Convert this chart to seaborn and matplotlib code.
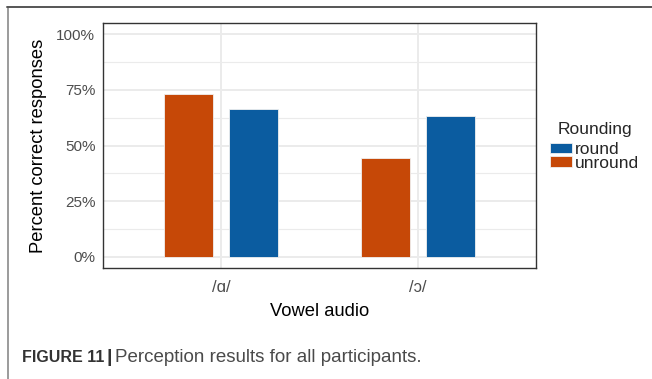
import matplotlib
matplotlib.use("Agg")
import matplotlib.pyplot as plt
import seaborn as sns
import pandas as pd
from matplotlib.patches import Patch
from matplotlib.lines import Line2D
from matplotlib.ticker import MultipleLocator, FuncFormatter

# values (percent correct)
vowels = ["/ɑ/", "/ɔ/"]
unround_pct = [73.2, 44.5]
round_pct = [66.5, 63.3]
y_ticks = [0, 25, 50, 75, 100]

colors = {"round": "#0B5CA0", "unround": "#C64807"}

df = pd.DataFrame({
    "Vowel audio": vowels * 2,
    "Rounding": ["unround"] * 2 + ["round"] * 2,
    "pct": unround_pct + round_pct,
})

sns.set_style("white")
plt.rcParams["font.family"] = ["Liberation Sans", "DejaVu Sans"]

fig = plt.figure(figsize=(6.52, 3.79), dpi=100)
ax = fig.add_axes([103 / 652, 1 - 268 / 379, 433 / 652, 245 / 379])

sns.barplot(ax=ax, data=df, x="Vowel audio", y="pct", hue="Rounding",
            hue_order=["unround", "round"], palette=colors, saturation=1,
            width=0.66, gap=0.24, edgecolor="#f0f0f0", linewidth=0.6,
            legend=False, zorder=3)

ax.set_xlim(-0.6, 1.6)
ax.set_ylim(-5, 105)
ax.set_yticks(y_ticks)
ax.yaxis.set_minor_locator(MultipleLocator(12.5))
ax.yaxis.set_major_formatter(FuncFormatter(lambda v, p: f"{int(v)}%"))

ax.grid(True, which="major", color="#EBEBEB", linewidth=1.4, zorder=0)
ax.grid(True, which="minor", axis="y", color="#EBEBEB", linewidth=0.8, zorder=0)
ax.set_axisbelow(True)
for s in ax.spines.values():
    s.set_color("#333333")
    s.set_linewidth(1.0)
    s.set_visible(True)

ax.tick_params(axis="both", which="major", direction="out", length=3.5, width=1,
               color="#333333", labelcolor="#4D4D4D", labelsize=11)
ax.tick_params(axis="x", which="major", labelsize=12, pad=5)
ax.tick_params(axis="y", which="major", pad=2)
ax.tick_params(axis="y", which="minor", length=0)

ax.set_xlabel("Vowel audio", fontsize=13.2, color="black", labelpad=6)
ax.set_ylabel("Percent correct responses", fontsize=13.2, color="black", labelpad=7)

# legend: round listed first, as in the reference
handles = [Patch(facecolor=colors["round"], edgecolor="#f0f0f0", linewidth=0.6),
           Patch(facecolor=colors["unround"], edgecolor="#f0f0f0", linewidth=0.6)]
fig.text(558 / 652, 1 - 130 / 379, "Rounding", fontsize=12.5, va="center", ha="left")
leg = fig.legend(handles, ["round", "unround"],
                 loc="upper left", bbox_to_anchor=(550 / 652, 1 - 142 / 379),
                 frameon=False, fontsize=12.5,
                 handlelength=1.25, handleheight=0.52, handletextpad=0.2,
                 labelspacing=-0.08, borderpad=0, borderaxespad=0)

# outer figure frame (left and top edges)
fig.add_artist(Line2D([7.5 / 652, 7.5 / 652], [0, 1 - 7 / 379], color="#8a8a8a", linewidth=1.2))
fig.add_artist(Line2D([7 / 652, 1], [1 - 7 / 379, 1 - 7 / 379], color="#555555", linewidth=1.4))

# caption
cap_y = 1 - 357 / 379
fig.text(22 / 652, cap_y, "FIGURE 11", fontsize=11.5, fontweight="bold",
         color="#333333", va="center", ha="left")
fig.text(106 / 652, cap_y, "|", fontsize=14, fontweight="bold",
         color="#333333", va="center", ha="left")
fig.text(115 / 652, cap_y, "Perception results for all participants.",
         fontsize=13.5, color="#4a4a4a", va="center", ha="left")

fig.savefig("out.png", dpi=100)
